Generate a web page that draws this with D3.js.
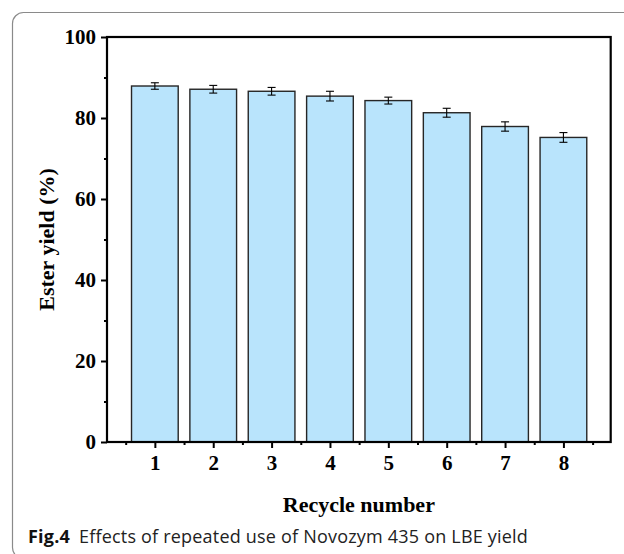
<!DOCTYPE html>
<html>
<head>
<meta charset="utf-8">
<script src="https://cdn.jsdelivr.net/npm/d3@7/dist/d3.min.js"></script>
<style>
  html, body { margin: 0; padding: 0; background: #fff; }
  svg { display: block; }
</style>
</head>
<body>
<svg id="chart" width="624" height="554"></svg>
<script>
// Ester yield over successive reuse cycles of the enzyme
const cycles = [1, 2, 3, 4, 5, 6, 7, 8];
const yieldMean = [87.9, 87.1, 86.6, 85.4, 84.3, 81.3, 77.9, 75.2];
const yieldErr = [0.8, 0.95, 0.95, 1.2, 0.85, 1.1, 1.15, 1.2];
const yTicks = [0, 20, 40, 60, 80, 100];
const yMinorTicks = [10, 30, 50, 70, 90];
const xMinorTicks = [0.5, 1.5, 2.5, 3.5, 4.5, 5.5, 6.5, 7.5, 8.5];

const svg = d3.select("#chart");

// card border with rounded corner
svg.append("rect")
  .attr("x", 12.5).attr("y", 12.5)
  .attr("width", 700).attr("height", 546)
  .attr("rx", 11).attr("ry", 11)
  .attr("fill", "none")
  .attr("stroke", "#8a8a8a")
  .attr("stroke-width", 1.2);

const plot = { left: 107, right: 610.7, top: 37, bottom: 442 };

const x = d3.scaleLinear().domain([0.18, 8.81]).range([plot.left, plot.right]);
const y = d3.scaleLinear().domain([0, 100]).range([plot.bottom, plot.top]);
const unit = x(2) - x(1);
const barW = unit * 0.8;

const serif = "'Liberation Serif', 'Times New Roman', serif";

// bars
svg.append("g").selectAll("rect")
  .data(cycles)
  .join("rect")
  .attr("x", (d) => x(d) - barW / 2)
  .attr("y", (d, i) => y(yieldMean[i]))
  .attr("width", barW)
  .attr("height", (d, i) => y(0) - y(yieldMean[i]))
  .attr("fill", "#b9e4fc")
  .attr("stroke", "#262626")
  .attr("stroke-width", 1.4);

// error bars
const eb = svg.append("g").attr("stroke", "#000").attr("stroke-width", 1.1);
cycles.forEach((c, i) => {
  const cx = x(c);
  const hi = y(yieldMean[i] + yieldErr[i]);
  const lo = y(yieldMean[i] - yieldErr[i]);
  eb.append("line").attr("x1", cx).attr("x2", cx).attr("y1", hi).attr("y2", lo);
  eb.append("line").attr("x1", cx - 4).attr("x2", cx + 4).attr("y1", hi).attr("y2", hi);
  eb.append("line").attr("x1", cx - 4).attr("x2", cx + 4).attr("y1", lo).attr("y2", lo);
});

// y axis
const yAxis = d3.axisLeft(y).tickValues(yTicks).tickSize(6).tickPadding(5).tickFormat(d3.format("d"));
const yg = svg.append("g").attr("transform", `translate(${plot.left},0)`).call(yAxis);
yg.select(".domain").remove();
yg.selectAll(".tick line").attr("stroke", "#000").attr("stroke-width", 2);
yg.selectAll(".tick text")
  .attr("font-family", serif).attr("font-weight", "bold").attr("font-size", 21).attr("fill", "#000");
const ygm = d3.axisLeft(y).tickValues(yMinorTicks).tickSize(3).tickFormat("");
const ymg = svg.append("g").attr("transform", `translate(${plot.left},0)`).call(ygm);
ymg.select(".domain").remove();
ymg.selectAll(".tick line").attr("stroke", "#000").attr("stroke-width", 2);

// x axis
const xAxis = d3.axisBottom(x).tickValues(cycles).tickSize(6).tickPadding(7).tickFormat(d3.format("d"));
const xg = svg.append("g").attr("transform", `translate(0,${plot.bottom})`).call(xAxis);
xg.select(".domain").remove();
xg.selectAll(".tick line").attr("stroke", "#000").attr("stroke-width", 2);
xg.selectAll(".tick text")
  .attr("font-family", serif).attr("font-weight", "bold").attr("font-size", 21).attr("fill", "#000");
const xgm = d3.axisBottom(x).tickValues(xMinorTicks).tickSize(3).tickFormat("");
const xmg = svg.append("g").attr("transform", `translate(0,${plot.bottom})`).call(xgm);
xmg.select(".domain").remove();
xmg.selectAll(".tick line").attr("stroke", "#000").attr("stroke-width", 2);

// plot frame
svg.append("rect")
  .attr("x", plot.left).attr("y", plot.top)
  .attr("width", plot.right - plot.left).attr("height", plot.bottom - plot.top)
  .attr("fill", "none").attr("stroke", "#000").attr("stroke-width", 2.2);

// axis titles
svg.append("text")
  .attr("x", (plot.left + plot.right) / 2).attr("y", 512)
  .attr("text-anchor", "middle")
  .attr("font-family", serif).attr("font-weight", "bold").attr("font-size", 22)
  .text("Recycle number");

svg.append("text")
  .attr("transform", `translate(54,${(plot.top + plot.bottom) / 2}) rotate(-90)`)
  .attr("text-anchor", "middle")
  .attr("font-family", serif).attr("font-weight", "bold").attr("font-size", 22)
  .text("Ester yield (%)");

// caption
const cap = svg.append("text")
  .attr("x", 28).attr("y", 543)
  .attr("font-family", "'Open Sans', 'Noto Sans', sans-serif").attr("font-size", 18)
  .attr("letter-spacing", 0.2).attr("fill", "#222");
cap.append("tspan").attr("font-weight", "bold").attr("fill", "#111").text("Fig.4");
cap.append("tspan").attr("dx", 9).text("Effects of repeated use of Novozym 435 on LBE yield");
</script>
</body>
</html>
